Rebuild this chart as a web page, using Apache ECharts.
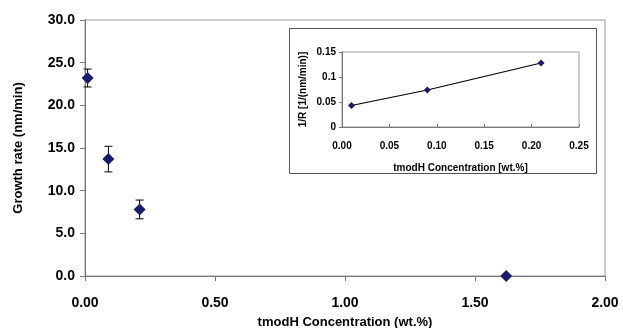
<!DOCTYPE html>
<html>
<head>
<meta charset="utf-8">
<script src="https://cdn.jsdelivr.net/npm/echarts@6/dist/echarts.min.js"></script>
<style>
html, body { margin: 0; padding: 0; background: #fff; }
#chart { width: 623px; height: 328px; }
</style>
</head>
<body>
<div id="chart"></div>
<script>
// main plot: growth rate vs concentration
var conc = [0.01, 0.09, 0.21, 1.62];
var rate = [23.2, 13.7, 7.8, 0.0];
var rateErr = [1.05, 1.5, 1.1, 0];
var mainXTicks = ['0.00', '0.50', '1.00', '1.50', '2.00'];

// inset: 1/R vs concentration
var insetConc = [0.01, 0.09, 0.21];
var insetInvR = [0.043, 0.074, 0.128];

var font = 'Liberation Sans, Arial, sans-serif';
var navy = '#1a1a6e';

var myChart = echarts.init(document.getElementById('chart'));

var mainPts = [], errPts = [], insetPts = [];
for (var i = 0; i < conc.length; i++) {
    mainPts.push([conc[i], rate[i]]);
    if (rateErr[i] > 0) {
        errPts.push([conc[i], rate[i] - rateErr[i], rate[i] + rateErr[i]]);
    }
}
for (var j = 0; j < insetConc.length; j++) {
    insetPts.push([insetConc[j], insetInvR[j]]);
}

function errorBar(params, api) {
    var lo = api.coord([api.value(0), api.value(1)]);
    var hi = api.coord([api.value(0), api.value(2)]);
    var w = 4;
    var st = { stroke: '#000', lineWidth: 1 };
    return {
        type: 'group',
        children: [
            { type: 'line', shape: { x1: hi[0], y1: hi[1], x2: lo[0], y2: lo[1] }, style: st },
            { type: 'line', shape: { x1: hi[0] - w, y1: hi[1], x2: hi[0] + w, y2: hi[1] }, style: st },
            { type: 'line', shape: { x1: lo[0] - w, y1: lo[1], x2: lo[0] + w, y2: lo[1] }, style: st }
        ]
    };
}

var option = {
    backgroundColor: '#fff',
    animation: false,
    graphic: [{
        type: 'rect',
        left: 289, top: 28,
        shape: { width: 307, height: 145 },
        style: { fill: '#fff', stroke: '#555', lineWidth: 1 },
        z: 5
    }],
    grid: [
        { left: 85, right: 18, top: 20, bottom: 52, show: true, borderColor: '#999', borderWidth: 1, outerBoundsMode: 'none' },
        { left: 342, right: 44, top: 52, bottom: 201, show: true, borderColor: '#999', borderWidth: 1, z: 10, outerBoundsMode: 'none' }
    ],
    xAxis: [{
        gridIndex: 0, type: 'value', min: 0, max: 2, interval: 0.5,
        name: 'tmodH Concentration (wt.%)', nameLocation: 'middle', nameGap: 40,
        nameTextStyle: { fontFamily: font, fontWeight: 'bold', fontSize: 13, color: '#000' },
        axisLine: { lineStyle: { color: '#777' } },
        axisTick: { inside: false, length: 5, lineStyle: { color: '#777' } },
        axisLabel: {
            fontFamily: font, fontWeight: 'bold', fontSize: 14, color: '#000', margin: 20,
            formatter: function (v) { return mainXTicks[Math.round(v / 0.5)]; }
        },
        splitLine: { show: false }
    }, {
        gridIndex: 1, type: 'value', min: 0, max: 0.25, interval: 0.05,
        name: 'tmodH Concentration [wt.%]', nameLocation: 'middle', nameGap: 36,
        nameTextStyle: { fontFamily: font, fontWeight: 'bold', fontSize: 10, color: '#000' },
        axisLine: { lineStyle: { color: '#777' } },
        axisTick: { inside: true, length: 3, lineStyle: { color: '#777' } },
        axisLabel: {
            fontFamily: font, fontWeight: 'bold', fontSize: 10, color: '#000', margin: 14,
            formatter: function (v) { return v.toFixed(2); }
        },
        splitLine: { show: false },
        z: 10
    }],
    yAxis: [{
        gridIndex: 0, type: 'value', min: 0, max: 30, interval: 5,
        name: 'Growth rate (nm/min)', nameLocation: 'middle', nameGap: 60,
        nameTextStyle: { fontFamily: font, fontWeight: 'bold', fontSize: 13, color: '#000' },
        axisLine: { show: true, lineStyle: { color: '#777' } },
        axisTick: { show: true, length: 5, lineStyle: { color: '#777' } },
        axisLabel: {
            fontFamily: font, fontWeight: 'bold', fontSize: 14, color: '#000', margin: 10,
            formatter: function (v) { return v.toFixed(1); }
        },
        splitLine: { show: false }
    }, {
        gridIndex: 1, type: 'value', min: 0, max: 0.15, interval: 0.05,
        name: '1/R [1/(nm/min)]', nameLocation: 'middle', nameGap: 34,
        nameTextStyle: { fontFamily: font, fontWeight: 'bold', fontSize: 10, color: '#000' },
        axisLine: { show: true, lineStyle: { color: '#777' } },
        axisTick: { show: true, length: 3, lineStyle: { color: '#777' } },
        axisLabel: {
            fontFamily: font, fontWeight: 'bold', fontSize: 10, color: '#000', margin: 6,
            formatter: function (v) { return v === 0 ? '0' : String(+v.toFixed(2)); }
        },
        splitLine: { show: false },
        z: 10
    }],
    series: [{
        type: 'custom',
        xAxisIndex: 0, yAxisIndex: 0,
        renderItem: errorBar,
        data: errPts,
        z: 2
    }, {
        type: 'scatter',
        xAxisIndex: 0, yAxisIndex: 0,
        symbol: 'diamond', symbolSize: 12,
        itemStyle: { color: navy, opacity: 1 },
        data: mainPts,
        z: 3
    }, {
        type: 'line',
        xAxisIndex: 1, yAxisIndex: 1,
        symbol: 'diamond', symbolSize: 7,
        showSymbol: true,
        lineStyle: { color: '#000', width: 1.2 },
        itemStyle: { color: navy, opacity: 1 },
        data: insetPts,
        z: 12
    }]
};

myChart.setOption(option);
</script>
</body>
</html>
